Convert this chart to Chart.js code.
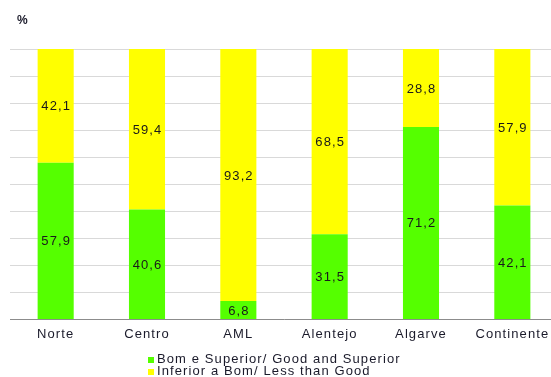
<!DOCTYPE html>
<html>
<head>
<meta charset="utf-8">
<script src="https://cdn.jsdelivr.net/npm/chart.js@4"></script>
<style>
  body { margin: 0; background: #fff; overflow: hidden; font-family: "Liberation Sans", Arial, sans-serif; }
  #wrap { position: relative; width: 562px; height: 377px; }
  #unit { position: absolute; left: 17px; top: 13px; font-size: 12px; font-weight: bold; color: #1a1a2a; letter-spacing: 0.5px; }
  #legend { position: absolute; left: 148px; top: 353px; font-size: 13px; color: #1a1a2a; line-height: 12px; letter-spacing: 1.1px; }
  #legend span.sw { display: inline-block; width: 6px; height: 6px; margin-right: 3px; }
</style>
</head>
<body>
<div id="wrap">
  <canvas id="chart" width="562" height="377"></canvas>
  <div id="unit">%</div>
  <div id="legend"></div>
</div>
<script>
const regions = ["Norte", "Centro", "AML", "Alentejo", "Algarve", "Continente"];
const goodSuperior = [57.9, 40.6, 6.8, 31.5, 71.2, 42.1];
const lessThanGood = [42.1, 59.4, 93.2, 68.5, 28.8, 57.9];
const seriesNames = ["Bom e Superior/ Good and Superior", "Inferior a Bom/ Less than Good"];
const seriesColors = ["#55ff00", "#ffff00"];

// the source text is a bit stretched, so widen all canvas text
const wideText = {
  id: "wideText",
  beforeDraw(chart) { chart.ctx.letterSpacing = "1.1px"; }
};

// value labels in the middle of each segment
const segmentLabels = {
  id: "segmentLabels",
  afterDatasetsDraw(chart) {
    const ctx = chart.ctx;
    ctx.save();
    ctx.font = "13px 'Liberation Sans', Arial, sans-serif";
    ctx.fillStyle = "#1a1a1a";
    ctx.textAlign = "center";
    ctx.textBaseline = "middle";
    chart.data.datasets.forEach((ds, i) => {
      chart.getDatasetMeta(i).data.forEach((bar, j) => {
        const mid = (bar.y + bar.base) / 2;
        ctx.fillText(ds.data[j].toFixed(1).replace(".", ","), bar.x + 0.5, mid + 1);
      });
    });
    ctx.restore();
  }
};

new Chart(document.getElementById("chart"), {
  type: "bar",
  data: {
    labels: regions,
    datasets: [
      { label: seriesNames[0], data: goodSuperior, backgroundColor: seriesColors[0] },
      { label: seriesNames[1], data: lessThanGood, backgroundColor: seriesColors[1] }
    ]
  },
  options: {
    responsive: false,
    animation: false,
    layout: { padding: { left: 10, top: 49, right: 4, bottom: 36 } },
    datasets: { bar: { categoryPercentage: 1, barPercentage: 0.395 } },
    plugins: {
      legend: { display: false },
      tooltip: { enabled: false }
    },
    scales: {
      x: {
        stacked: true,
        grid: { display: false },
        border: { color: "#8c8c8c", width: 1 },
        ticks: { color: "#1a1a2a", font: { size: 13, family: "'Liberation Sans', Arial, sans-serif" }, padding: -1 }
      },
      y: {
        stacked: true,
        min: 0,
        max: 100,
        ticks: { display: false, stepSize: 10 },
        grid: { color: "#d9d9d9", drawTicks: false },
        border: { display: false }
      }
    }
  },
  plugins: [wideText, segmentLabels]
});

document.getElementById("legend").innerHTML = seriesNames
  .map((n, i) => `<div><span class="sw" style="background:${seriesColors[i]}"></span>${n}</div>`)
  .join("");
</script>
</body>
</html>
